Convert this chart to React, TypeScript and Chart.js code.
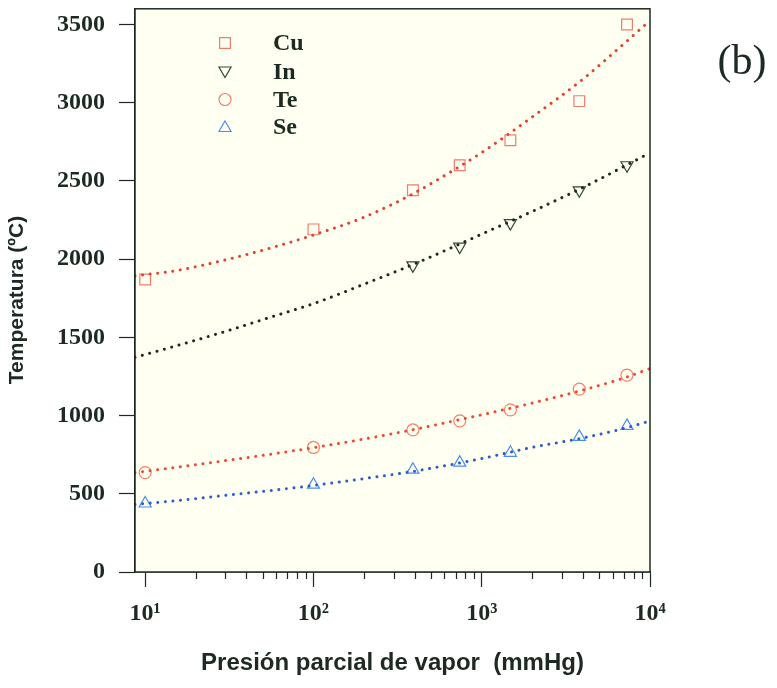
import React, { useEffect, useRef } from 'react';
import { Chart, registerables } from 'chart.js';

Chart.register(...registerables);

// Measured points (vapor pressure in mmHg, temperature in ºC)
const pressureMeasured = [10, 100, 390, 740, 1480, 3800, 7300];
const pressureIn = [390, 740, 1480, 3800, 7300];
const cuMeasured = [1870, 2190, 2440, 2600, 2760, 3010, 3500];
const inMeasured = [1960, 2080, 2230, 2440, 2600];
const teMeasured = [635, 796, 908, 966, 1036, 1169, 1258];
const seMeasured = [438, 558, 654, 699, 762, 864, 934];

// Fitted curves
const pressureFit = [8.7, 15, 30, 60, 100, 200, 400, 700, 1000, 2000, 4000, 7000, 10000];
const cuFit = [1893, 1925, 1995, 2081, 2154, 2268, 2424, 2577, 2681, 2909, 3151, 3377, 3525];
const inFit = [1372, 1443, 1538, 1640, 1715, 1840, 1970, 2085, 2160, 2305, 2458, 2592, 2680];
const teFit = [635, 668, 712, 758, 795, 850, 912, 968, 1005, 1080, 1163, 1240, 1300];
const seFit = [432, 455, 490, 525, 553, 597, 645, 692, 725, 797, 857, 918, 965];

const seriesNames = ['Cu', 'In', 'Te', 'Se'];
const xTickValues = [10, 100, 1000, 10000];
const xTickLabels = ['10¹', '10²', '10³', '10⁴'];
const yTickValues = [0, 500, 1000, 1500, 2000, 2500, 3000, 3500];
const panelLabel = '(b)';
const xTitle = 'Presión parcial de vapor  (mmHg)';
const yTitle = 'Temperatura (ºC)';

const INK = '#1c2a21';
const markerColors = ['#f07d6c', '#34483b', '#f4806a', '#4a8ef0'];
const curveColors = ['#e2432e', '#1c2a20', '#ee4a2e', '#2a5cd2'];
const markerStyles: any[] = ['rect', 'triangle', 'circle', 'triangle'];
const markerRotation = [0, 180, 0, 0];
const markerRadius = [7.6, 7, 6, 7];

const pts = (xs: number[], ys: number[]) => xs.map((x, i) => ({ x, y: ys[i] }));

function drawMarker(ctx: CanvasRenderingContext2D, style: string, x: number, y: number, r: number, rot: number) {
  ctx.beginPath();
  if (style === 'rect') {
    const s = Math.SQRT1_2 * r;
    ctx.rect(x - s, y - s, 2 * s, 2 * s);
  } else if (style === 'circle') {
    ctx.arc(x, y, r, 0, Math.PI * 2);
  } else {
    let a = (rot * Math.PI) / 180;
    for (let k = 0; k < 3; k++) {
      const px = x + Math.sin(a) * r;
      const py = y - Math.cos(a) * r;
      if (k === 0) ctx.moveTo(px, py);
      else ctx.lineTo(px, py);
      a += (2 * Math.PI) / 3;
    }
    ctx.closePath();
  }
  ctx.stroke();
}

const decorPlugin = {
  id: 'decor',
  beforeDatasetsDraw(chart: any) {
    const { ctx, chartArea: a } = chart;
    ctx.save();
    ctx.fillStyle = '#fffff2';
    ctx.fillRect(a.left, a.top, a.right - a.left, a.bottom - a.top);
    ctx.restore();
  },
  afterDraw(chart: any) {
    const { ctx, chartArea: a } = chart;
    const xs = chart.scales.x;
    ctx.save();
    // frame
    ctx.strokeStyle = INK;
    ctx.lineWidth = 1.5;
    ctx.strokeRect(a.left, a.top, a.right - a.left, a.bottom - a.top);
    // minor ticks on the log axis
    ctx.lineWidth = 1.2;
    ctx.beginPath();
    for (const dec of [10, 100, 1000]) {
      for (let m = 2; m <= 9; m++) {
        const px = Math.round(xs.getPixelForValue(dec * m)) + 0.5;
        ctx.moveTo(px, a.bottom);
        ctx.lineTo(px, a.bottom + 7);
      }
    }
    ctx.stroke();
    // y axis title
    ctx.save();
    ctx.translate(17, 300);
    ctx.rotate(-Math.PI / 2);
    ctx.fillStyle = INK;
    ctx.font = 'bold 21px "Liberation Sans"';
    ctx.textAlign = 'center';
    ctx.textBaseline = 'middle';
    ctx.fillText(yTitle, 0, 0);
    ctx.restore();
    // legend
    const lx = 225;
    const rows = [43, 71.5, 99.5, 127];
    seriesNames.forEach((name, i) => {
      ctx.strokeStyle = markerColors[i];
      ctx.lineWidth = 1.2;
      drawMarker(ctx, markerStyles[i], lx, rows[i] + (i === 1 ? -1 : i === 3 ? 1 : 0), markerRadius[i], markerRotation[i]);
      ctx.fillStyle = INK;
      ctx.font = 'bold 24px "Liberation Serif"';
      ctx.textBaseline = 'middle';
      ctx.textAlign = 'left';
      ctx.fillText(name, 273, rows[i] + 1);
    });
    // panel label
    ctx.fillStyle = INK;
    ctx.font = '42px "Liberation Serif"';
    ctx.textAlign = 'center';
    ctx.textBaseline = 'alphabetic';
    ctx.fillText(panelLabel, 742, 74);
    ctx.restore();
  },
};

export default function App() {
  const ref = useRef<HTMLCanvasElement>(null);

  useEffect(() => {
    document.body.style.margin = '0';
    const canvas = ref.current;
    if (!canvas) return;

    const markerSets = [
      pts(pressureMeasured, cuMeasured),
      pts(pressureIn, inMeasured),
      pts(pressureMeasured, teMeasured),
      pts(pressureMeasured, seMeasured),
    ];
    const fitSets = [cuFit, inFit, teFit, seFit].map((ys) => pts(pressureFit, ys));

    const datasets: any[] = [];
    fitSets.forEach((d, i) => {
      datasets.push({
        label: seriesNames[i] + ' fit',
        data: d,
        showLine: true,
        borderColor: curveColors[i],
        borderWidth: 3,
        borderDash: [0.01, 7.6],
        borderCapStyle: 'round',
        cubicInterpolationMode: 'monotone',
        pointRadius: 0,
        fill: false,
      });
    });
    markerSets.forEach((d, i) => {
      datasets.push({
        label: seriesNames[i],
        data: d,
        showLine: false,
        pointStyle: markerStyles[i],
        rotation: markerRotation[i],
        pointRadius: markerRadius[i],
        pointBorderColor: markerColors[i],
        pointBackgroundColor: 'rgba(0,0,0,0)',
        pointBorderWidth: 1.2,
      });
    });

    const chart = new Chart(canvas, {
      type: 'scatter',
      data: { datasets },
      plugins: [decorPlugin],
      options: {
        animation: false,
        responsive: false,
        devicePixelRatio: 1,
        layout: { padding: { top: -3, right: 127, left: 0, bottom: 0 } },
        plugins: { legend: { display: false }, tooltip: { enabled: false } },
        scales: {
          x: {
            type: 'logarithmic',
            min: 8.7,
            max: 10000,
            afterBuildTicks: (s: any) => {
              s.ticks = xTickValues.map((v) => ({ value: v, major: true }));
            },
            afterFit: (s: any) => {
              s.height = 116;
              s.paddingLeft = 0;
              s.paddingRight = 0;
            },
            grid: {
              drawOnChartArea: false,
              drawTicks: true,
              tickLength: 15,
              color: INK,
              tickWidth: 1.2,
            },
            border: { display: true, color: INK, width: 1.5 },
            ticks: {
              autoSkip: false,
              maxRotation: 0,
              padding: 12,
              color: INK,
              font: { family: '"Liberation Serif"', size: 24, weight: 'bold' },
              callback: (v: any) => {
                const i = xTickValues.indexOf(Number(v));
                return i >= 0 ? xTickLabels[i] : '';
              },
            },
            title: {
              display: true,
              text: xTitle,
              color: INK,
              font: { family: '"Liberation Sans"', size: 24, weight: 'bold' },
              padding: { top: 0, bottom: 10 },
            },
          },
          y: {
            type: 'linear',
            min: 0,
            max: 3600,
            afterBuildTicks: (s: any) => {
              s.ticks = yTickValues.map((v) => ({ value: v }));
            },
            afterFit: (s: any) => {
              s.width = 135;
              s.paddingTop = 0;
              s.paddingBottom = 0;
            },
            grid: {
              drawOnChartArea: false,
              drawTicks: true,
              tickLength: 16,
              color: INK,
              tickWidth: 1.2,
            },
            border: { display: true, color: INK, width: 1.5 },
            ticks: {
              padding: 14,
              color: INK,
              font: { family: '"Liberation Serif"', size: 24, weight: 'bold' },
              callback: (v: any) => String(v),
            },
            title: { display: false },
          },
        },
      },
    });
    return () => chart.destroy();
  }, []);

  return (
    <div style={{ width: 777, height: 688, background: '#ffffff' }}>
      <canvas ref={ref} width={777} height={688} style={{ display: 'block' }} />
    </div>
  );
}
